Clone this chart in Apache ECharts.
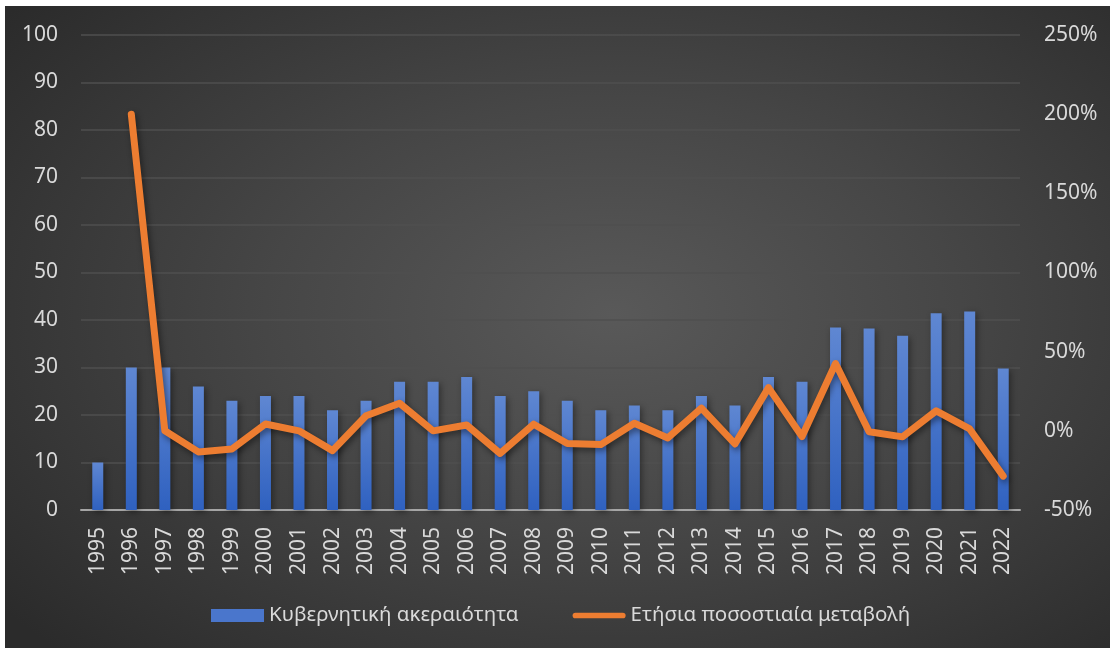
<!DOCTYPE html>
<html>
<head>
<meta charset="utf-8">
<script src="https://cdn.jsdelivr.net/npm/echarts@6/dist/echarts.min.js"></script>
<style>
  html, body { margin: 0; padding: 0; background: #fff; }
  #main {
    position: absolute; left: 5px; top: 6px; width: 1105px; height: 642px;
    background: radial-gradient(ellipse 70% 75% at 55% 48%, #595959 0%, #464646 45%, #2b2b2b 100%);
  }
</style>
</head>
<body>
<div id="main"></div>
<script>
var years = ['1995', '1996', '1997', '1998', '1999', '2000', '2001', '2002', '2003', '2004',
  '2005', '2006', '2007', '2008', '2009', '2010', '2011', '2012', '2013', '2014',
  '2015', '2016', '2017', '2018', '2019', '2020', '2021', '2022']
// Κυβερνητική ακεραιότητα (left axis)
var integrity = [10, 30, 30, 26, 23, 24, 24, 21, 23, 27,
  27, 28, 24, 25, 23, 21, 22, 21, 24, 22,
  28, 27, 38.4, 38.2, 36.7, 41.4, 41.8, 29.8]
// Ετήσια ποσοστιαία μεταβολή in % (right axis)
var yearlyChange = [null, 200, 0, -13.3, -11.5, 4.3, 0, -12.5, 9.5, 17.4,
  0, 3.7, -14.3, 4.2, -8, -8.7, 4.8, -4.5, 14.3, -8.3,
  27.3, -3.6, 42.5, -0.6, -3.8, 12.6, 1.2, -28.6]

var textColor = '#d9d9d9'
var fontFamily = '"Noto Sans", sans-serif'

var chartDom = document.getElementById('main')
var myChart = echarts.init(chartDom)
var option;

option = {
  backgroundColor: 'transparent',
  textStyle: { fontFamily: fontFamily },
  grid: {
    left: 76,
    right: 90,
    top: 29,
    bottom: 138
  },
  legend: {
    bottom: 17,
    left: 201,
    itemGap: 54,
    textStyle: { color: textColor, fontSize: 20.5, fontFamily: fontFamily },
    data: [
      { name: 'Κυβερνητική ακεραιότητα', itemStyle: { color: '#4a76cc' }, icon: 'rect' },
      { name: 'Ετήσια ποσοστιαία μεταβολή', icon: 'path://M3,0 L53,0 A3,3 0 0 1 53,6 L3,6 A3,3 0 0 1 3,0 Z' }
    ],
    itemWidth: 53,
    itemHeight: 13
  },
  xAxis: [
    {
      type: 'category',
      data: years,
      axisTick: { show: false },
      axisLine: { lineStyle: { color: '#a6a6a6', width: 2 } },
      axisLabel: {
        rotate: 90,
        color: textColor,
        fontSize: 21,
        margin: 17,
        interval: 0
      }
    }
  ],
  yAxis: [
    {
      type: 'value',
      min: 0,
      max: 100,
      interval: 10,
      axisLine: { show: false },
      axisTick: { show: false },
      axisLabel: { color: textColor, fontSize: 21, margin: 23 },
      splitLine: { lineStyle: { color: '#4f4f4f', width: 1.5 } }
    },
    {
      type: 'value',
      min: -50,
      max: 250,
      interval: 50,
      axisLine: { show: false },
      axisTick: { show: false },
      splitLine: { show: false },
      axisLabel: { color: textColor, fontSize: 21, margin: 24, formatter: '{value}%' }
    }
  ],
  series: [
    {
      name: 'Κυβερνητική ακεραιότητα',
      type: 'bar',
      yAxisIndex: 0,
      barWidth: 11,
      itemStyle: {
        color: new echarts.graphic.LinearGradient(0, 0, 0, 1, [
          { offset: 0, color: '#5f87d2' },
          { offset: 1, color: '#2f61c0' }
        ]),
        shadowColor: 'rgba(0,0,0,0.4)',
        shadowBlur: 6,
        shadowOffsetX: 2,
        shadowOffsetY: 2
      },
      data: integrity
    },
    {
      name: 'Ετήσια ποσοστιαία μεταβολή',
      type: 'line',
      yAxisIndex: 1,
      symbol: 'none',
      connectNulls: false,
      lineStyle: {
        color: '#ed7d31',
        width: 7,
        cap: 'round',
        join: 'round',
        shadowColor: 'rgba(0,0,0,0.45)',
        shadowBlur: 6,
        shadowOffsetX: 2,
        shadowOffsetY: 3
      },
      itemStyle: { color: '#ed7d31' },
      data: yearlyChange
    }
  ]
};

option && myChart.setOption(option)

window.addEventListener('resize', () => {
  myChart.resize()
})
</script>
</body>
</html>
